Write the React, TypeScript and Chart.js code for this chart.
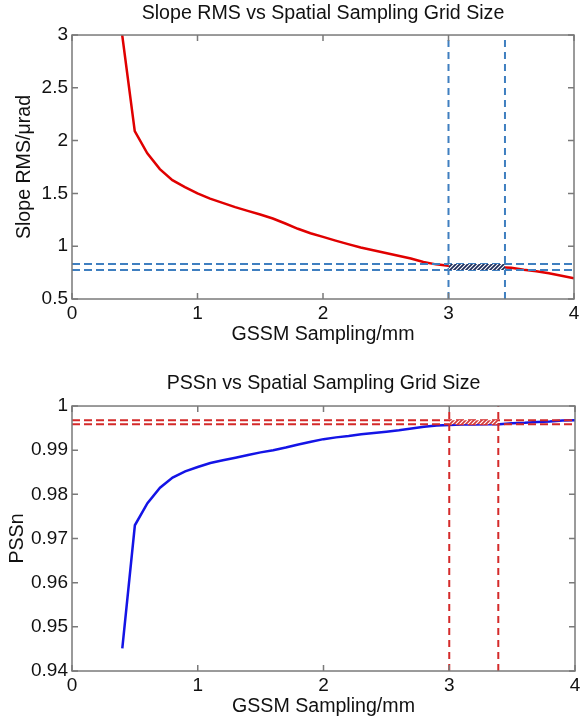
import React, { useEffect, useRef } from "react";
import { Chart, registerables } from "chart.js";

Chart.register(...registerables);

// ---------- data ----------
const xTickValues = [0, 1, 2, 3, 4];
const xTickLabels = ["0", "1", "2", "3", "4"];

const slopeTickValues = [0.5, 1, 1.5, 2, 2.5, 3];
const slopeTickLabels = ["0.5", "1", "1.5", "2", "2.5", "3"];

const pssnTickValues = [0.94, 0.95, 0.96, 0.97, 0.98, 0.99, 1];
const pssnTickLabels = ["0.94", "0.95", "0.96", "0.97", "0.98", "0.99", "1"];

const samplingMm = [
  0.4, 0.5, 0.6, 0.7, 0.8, 0.9, 1.0, 1.1, 1.2, 1.3, 1.4, 1.5, 1.6, 1.7, 1.8, 1.9,
  2.0, 2.1, 2.2, 2.3, 2.4, 2.5, 2.6, 2.7, 2.8, 2.9, 3.0, 3.1, 3.2, 3.3, 3.4, 3.5,
  3.6, 3.7, 3.8, 3.9, 4.0,
];

const slopeRms = [
  3.0, 2.09, 1.88, 1.73, 1.625, 1.56, 1.5, 1.45, 1.41, 1.37, 1.335, 1.3, 1.262,
  1.215, 1.165, 1.123, 1.088, 1.053, 1.02, 0.988, 0.962, 0.936, 0.91, 0.883, 0.85,
  0.828, 0.816, 0.812, 0.808, 0.805, 0.801, 0.795, 0.777, 0.762, 0.743, 0.72,
  0.696,
];

const pssn = [
  0.9451, 0.973, 0.978, 0.9815, 0.9838, 0.9852, 0.9862, 0.9871, 0.9877, 0.9883,
  0.9889, 0.9895, 0.99, 0.9906, 0.9913, 0.9919, 0.9925, 0.9929, 0.9932, 0.9936,
  0.9939, 0.9942, 0.9945, 0.9949, 0.9953, 0.9956, 0.9957, 0.9958, 0.9958,
  0.9959, 0.9959, 0.9961, 0.9962, 0.9964, 0.9965, 0.9967, 0.9968,
];

const slopeBandY = [0.775, 0.832];
const slopeBandX = [3.0, 3.45];
const pssnBandY = [0.9959, 0.9968];
const pssnBandX = [3.0, 3.39];

const FONT = "'Liberation Sans', Arial, sans-serif";
const TITLE_SIZE = 19.6;
const TICK_SIZE = 19;

function makePattern(color: string) {
  const c = document.createElement("canvas");
  c.width = 4;
  c.height = 4;
  const g = c.getContext("2d")!;
  g.fillStyle = "#ffffff";
  g.fillRect(0, 0, 4, 4);
  g.strokeStyle = color;
  g.lineWidth = 1.7;
  g.beginPath();
  g.moveTo(-1, 5);
  g.lineTo(5, -1);
  g.moveTo(-1, 1);
  g.lineTo(1, -1);
  g.moveTo(3, 5);
  g.lineTo(5, 3);
  g.stroke();
  return g.createPattern(c, "repeat");
}

const boxPlugin = {
  id: "matlabBox",
  afterDatasetsDraw(chart: any) {
    const { ctx, chartArea: a, scales } = chart;
    ctx.save();
    ctx.strokeStyle = "#7a7a7a";
    ctx.lineWidth = 1.5;
    ctx.strokeRect(a.left, a.top, a.right - a.left, a.bottom - a.top);
    const L = 6;
    ctx.beginPath();
    scales.x.ticks.forEach((t: any) => {
      const px = scales.x.getPixelForValue(t.value);
      ctx.moveTo(px, a.bottom);
      ctx.lineTo(px, a.bottom - L);
      ctx.moveTo(px, a.top);
      ctx.lineTo(px, a.top + L);
    });
    scales.y.ticks.forEach((t: any) => {
      const py = scales.y.getPixelForValue(t.value);
      ctx.moveTo(a.left, py);
      ctx.lineTo(a.left + L, py);
      ctx.moveTo(a.right, py);
      ctx.lineTo(a.right - L, py);
    });
    ctx.stroke();
    ctx.restore();
  },
};

interface PanelProps {
  height: number;
  title: string;
  titlePad: { top: number; bottom: number };
  yTitle: string;
  yTitlePad: number;
  xs: number[];
  ys: number[];
  curveColor: string;
  lineColor: string;
  hatchColor: string;
  bandX: number[];
  bandY: number[];
  yMin: number;
  yMax: number;
  yTicks: number[];
  yLabels: string[];
  xAxisHeight: number;
  xTitlePadBottom: number;
  rightPad: number;
}

function Panel(p: PanelProps) {
  const ref = useRef<HTMLCanvasElement>(null);
  useEffect(() => {
    if (!ref.current) return;
    const pattern = makePattern(p.hatchColor);
    const dash = [8, 4];
    const curve = p.xs.map((x, i) => ({ x, y: p.ys[i] }));
    const hLine = (y: number) => ({
      data: [
        { x: 0, y },
        { x: 4, y },
      ],
      borderColor: p.lineColor,
      borderWidth: 2,
      borderDash: dash,
      pointRadius: 0,
      fill: false,
      order: 1,
    });
    const vLine = (x: number) => ({
      data: [
        { x, y: p.yMin },
        { x, y: p.yMax },
      ],
      borderColor: p.lineColor,
      borderWidth: 2,
      borderDash: [7, 5],
      pointRadius: 0,
      fill: false,
      order: 1,
    });
    const chart = new Chart(ref.current, {
      type: "line",
      data: {
        datasets: [
          {
            data: p.bandX.map((x) => ({ x, y: p.bandY[1] })),
            borderWidth: 0,
            pointRadius: 0,
            backgroundColor: pattern as any,
            fill: "+1",
            order: 0,
          },
          {
            data: p.bandX.map((x) => ({ x, y: p.bandY[0] })),
            borderWidth: 0,
            pointRadius: 0,
            fill: false,
            order: 0,
          },
          hLine(p.bandY[0]),
          hLine(p.bandY[1]),
          vLine(p.bandX[0]),
          vLine(p.bandX[1]),
          {
            data: curve,
            borderColor: p.curveColor,
            borderWidth: 2.5,
            pointRadius: 0,
            fill: false,
            tension: 0,
            order: 2,
          },
        ] as any,
      },
      options: {
        animation: false,
        responsive: true,
        maintainAspectRatio: false,
        events: [],
        layout: { padding: { left: 0, right: p.rightPad, top: 0, bottom: 0 } },
        plugins: {
          legend: { display: false },
          tooltip: { enabled: false },
          title: {
            display: true,
            fullSize: false,
            text: p.title,
            color: "#111",
            font: { family: FONT, size: TITLE_SIZE, weight: "normal" as any },
            padding: p.titlePad,
          },
        },
        scales: {
          x: {
            type: "linear",
            min: 0,
            max: 4,
            grid: { display: false, drawTicks: false },
            border: { display: false },
            afterBuildTicks: (s: any) => {
              s.ticks = xTickValues.map((v) => ({ value: v }));
            },
            afterFit: (s: any) => {
              s.height = p.xAxisHeight;
            },
            ticks: {
              padding: 3.5,
              color: "#111",
              maxRotation: 0,
              font: { family: FONT, size: TICK_SIZE },
              callback: (v: any, i: number) => xTickLabels[i],
            },
            title: {
              display: true,
              text: "GSSM Sampling/mm",
              color: "#111",
              font: { family: FONT, size: TITLE_SIZE },
              padding: { top: 0, bottom: p.xTitlePadBottom },
            },
          },
          y: {
            type: "linear",
            min: p.yMin,
            max: p.yMax,
            grid: { display: false, drawTicks: false },
            border: { display: false },
            afterBuildTicks: (s: any) => {
              s.ticks = p.yTicks.map((v) => ({ value: v }));
            },
            afterFit: (s: any) => {
              s.width = 72;
            },
            ticks: {
              padding: 4,
              color: "#111",
              font: { family: FONT, size: TICK_SIZE },
              callback: (v: any, i: number) => p.yLabels[i],
            },
            title: {
              display: true,
              text: p.yTitle,
              color: "#111",
              font: { family: FONT, size: TITLE_SIZE },
              padding: { top: p.yTitlePad, bottom: 0 },
            },
          },
        },
      },
      plugins: [boxPlugin],
    });
    return () => chart.destroy();
  }, []);
  return (
    <div style={{ position: "relative", width: 587, height: p.height }}>
      <canvas ref={ref} />
    </div>
  );
}

export default function App() {
  return (
    <div
      style={{
        position: "absolute",
        left: 0,
        top: 0,
        width: 587,
        height: 723,
        background: "#fff",
      }}
    >
      <Panel
        height={350}
        title="Slope RMS vs Spatial Sampling Grid Size"
        titlePad={{ top: 1.5, bottom: 10 }}
        yTitle="Slope RMS/μrad"
        yTitlePad={12.8}
        xs={samplingMm}
        ys={slopeRms}
        curveColor="#e00000"
        lineColor="#3f7fc0"
        hatchColor="#1c2a58"
        bandX={slopeBandX}
        bandY={slopeBandY}
        yMin={0.5}
        yMax={3}
        yTicks={slopeTickValues}
        yLabels={slopeTickLabels}
        xAxisHeight={51}
        xTitlePadBottom={3.5}
        rightPad={13}
      />
      <Panel
        height={373}
        title="PSSn vs Spatial Sampling Grid Size"
        titlePad={{ top: 21.5, bottom: 11 }}
        yTitle="PSSn"
        yTitlePad={5.8}
        xs={samplingMm}
        ys={pssn}
        curveColor="#1414e6"
        lineColor="#d42a2a"
        hatchColor="#d43a3a"
        bandX={pssnBandX}
        bandY={pssnBandY}
        yMin={0.94}
        yMax={1}
        yTicks={pssnTickValues}
        yLabels={pssnTickLabels}
        xAxisHeight={52}
        xTitlePadBottom={4.5}
        rightPad={12}
      />
    </div>
  );
}
